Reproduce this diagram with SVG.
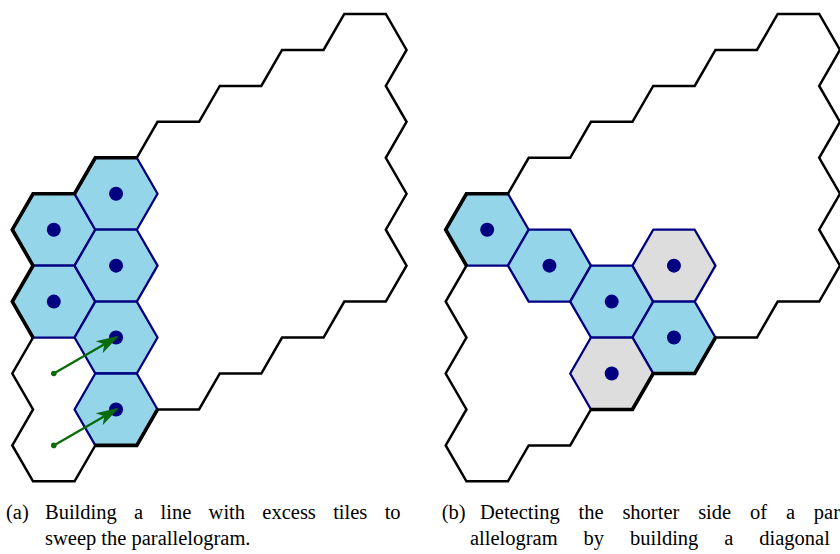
<svg xmlns="http://www.w3.org/2000/svg" xmlns:xlink="http://www.w3.org/1999/xlink" width="840" height="554" viewBox="0 0 840 554">
  <style>
    .tile { stroke: #000080; stroke-width: 2.3; stroke-linejoin: round; }
    .blue { fill: #95d5e9; }
    .gray { fill: #dddddd; }
    .dot { fill: #000080; }
    .outline { fill: none; stroke: #000000; stroke-width: 2.5; stroke-linejoin: miter; }
    .outline-heavy { fill: none; stroke: #000000; stroke-width: 3.6; stroke-linejoin: miter; }
    .move { stroke: #0b6b0b; stroke-width: 2.3; fill: none; marker-end: url(#stealth); }
    .start { fill: #0b6b0b; }
    .cap { font-family: "Liberation Serif", "DejaVu Serif", serif; font-size: 20.5px; fill: #000000; }
  </style>
  <defs>
    <!-- flat-topped hexagon, circumradius 41.5 -->
    <polygon id="hex" points="-41.5,0 -20.75,-35.95 20.75,-35.95 41.5,0 20.75,35.95 -20.75,35.95"/>
    <marker id="stealth" markerUnits="userSpaceOnUse" markerWidth="30" markerHeight="20" viewBox="0 -10 30 20" refX="19.5" refY="0" orient="auto" overflow="visible">
      <path d="M0,-7 L23,0 L0,7 L6,0 Z" fill="#0b6b0b"/>
    </marker>
  </defs>

  <!-- (a) tiles -->
  <g id="a-tile-0-0"><use xlink:href="#hex" class="tile blue" x="53.8" y="229.7"/><circle class="dot" cx="53.8" cy="229.7" r="7"/></g>
  <g id="a-tile-0-1"><use xlink:href="#hex" class="tile blue" x="53.8" y="301.6"/><circle class="dot" cx="53.8" cy="301.6" r="7"/></g>
  <g id="a-tile-1-0"><use xlink:href="#hex" class="tile blue" x="116.05" y="193.75"/><circle class="dot" cx="116.05" cy="193.75" r="7"/></g>
  <g id="a-tile-1-1"><use xlink:href="#hex" class="tile blue" x="116.05" y="265.65"/><circle class="dot" cx="116.05" cy="265.65" r="7"/></g>
  <g id="a-tile-1-2"><use xlink:href="#hex" class="tile blue" x="116.05" y="337.55"/><circle class="dot" cx="116.05" cy="337.55" r="7"/></g>
  <g id="a-tile-1-3"><use xlink:href="#hex" class="tile blue" x="116.05" y="409.45"/><circle class="dot" cx="116.05" cy="409.45" r="7"/></g>

  <!-- (a) parallelogram outline -->
  <g id="a-outline">
    <path class="outline" d="M12.3,229.7
      l20.75,-35.95 h41.5 l20.75,-35.95 h41.5 l20.75,-35.95 h41.5 l20.75,-35.95 h41.5 l20.75,-35.95 h41.5 l20.75,-35.95 h41.5
      l20.75,35.95 l-20.75,35.95 l20.75,35.95 l-20.75,35.95 l20.75,35.95 l-20.75,35.95 l20.75,35.95 l-20.75,35.95
      h-41.5 l-20.75,35.95 h-41.5 l-20.75,35.95 h-41.5 l-20.75,35.95 h-41.5 l-20.75,35.95 h-41.5 l-20.75,35.95 h-41.5
      l-20.75,-35.95 l20.75,-35.95 l-20.75,-35.95 l20.75,-35.95 l-20.75,-35.95 l20.75,-35.95 l-20.75,-35.95 Z"/>
    <!-- border stretches that run along occupied tiles -->
    <path class="outline-heavy" d="M33.05,337.55 L12.3,301.6 L33.05,265.65 L12.3,229.7 L33.05,193.75 L74.55,193.75 L95.3,157.8 L136.8,157.8
      M157.55,409.45 L136.8,445.4 L95.3,445.4"/>
  </g>

  <!-- (a) moves of the excess tiles -->
  <g id="a-moves">
    <circle class="start" cx="53.8" cy="373.5" r="2.8"/>
    <line class="move" x1="53.8" y1="373.5" x2="116.05" y2="337.55"/>
    <circle class="start" cx="53.8" cy="445.4" r="2.8"/>
    <line class="move" x1="53.8" y1="445.4" x2="116.05" y2="409.45"/>
  </g>

  <!-- (b) tiles -->
  <g id="b-tile-0-0"><use xlink:href="#hex" class="tile blue" x="487.2" y="229.7"/><circle class="dot" cx="487.2" cy="229.7" r="7"/></g>
  <g id="b-tile-1-1"><use xlink:href="#hex" class="tile blue" x="549.45" y="265.65"/><circle class="dot" cx="549.45" cy="265.65" r="7"/></g>
  <g id="b-tile-2-2"><use xlink:href="#hex" class="tile blue" x="611.7" y="301.6"/><circle class="dot" cx="611.7" cy="301.6" r="7"/></g>
  <g id="b-tile-3-2"><use xlink:href="#hex" class="tile gray" x="673.95" y="265.65"/><circle class="dot" cx="673.95" cy="265.65" r="7"/></g>
  <g id="b-tile-3-3"><use xlink:href="#hex" class="tile blue" x="673.95" y="337.55"/><circle class="dot" cx="673.95" cy="337.55" r="7"/></g>
  <g id="b-tile-2-3"><use xlink:href="#hex" class="tile gray" x="611.7" y="373.5"/><circle class="dot" cx="611.7" cy="373.5" r="7"/></g>

  <!-- (b) parallelogram outline -->
  <g id="b-outline">
    <path class="outline" d="M445.7,229.7
      l20.75,-35.95 h41.5 l20.75,-35.95 h41.5 l20.75,-35.95 h41.5 l20.75,-35.95 h41.5 l20.75,-35.95 h41.5 l20.75,-35.95 h41.5
      l20.75,35.95 l-20.75,35.95 l20.75,35.95 l-20.75,35.95 l20.75,35.95 l-20.75,35.95 l20.75,35.95 l-20.75,35.95
      h-41.5 l-20.75,35.95 h-41.5 l-20.75,35.95 h-41.5 l-20.75,35.95 h-41.5 l-20.75,35.95 h-41.5 l-20.75,35.95 h-41.5
      l-20.75,-35.95 l20.75,-35.95 l-20.75,-35.95 l20.75,-35.95 l-20.75,-35.95 l20.75,-35.95 l-20.75,-35.95 Z"/>
    <path class="outline-heavy" d="M466.45,265.65 L445.7,229.7 L466.45,193.75 L507.95,193.75
      M715.45,337.55 L694.7,373.5 L653.2,373.5 L632.45,409.45 L590.95,409.45"/>
  </g>

  <!-- captions -->
  <g id="caption-a">
    <text class="cap" x="6" y="519">(a)</text>
    <text class="cap" x="45" y="519" word-spacing="12.2">Building a line with excess tiles to</text>
    <text class="cap" x="45" y="545">sweep the parallelogram.</text>
  </g>
  <g id="caption-b">
    <text class="cap" x="441.7" y="519">(b)</text>
    <text class="cap" x="480" y="519" word-spacing="13.7">Detecting the shorter side of a par</text>
    <text class="cap" x="470" y="545" word-spacing="20.8">allelogram by building a diagonal</text>
  </g>
</svg>
